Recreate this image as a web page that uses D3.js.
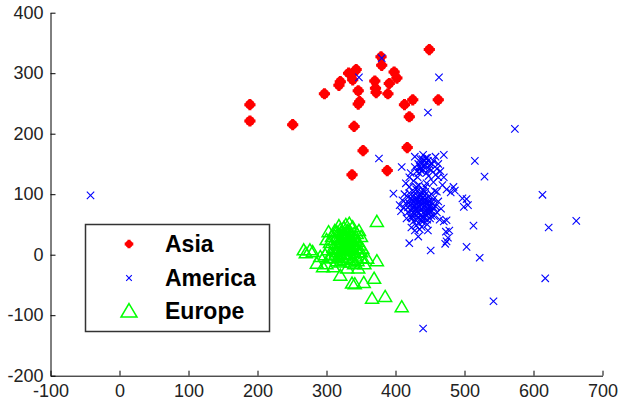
<!DOCTYPE html>
<html>
<head>
<meta charset="utf-8">
<script src="https://cdn.jsdelivr.net/npm/d3@7"></script>
<style>
body { margin: 0; background: #fff; }
.axis text { font-family: "Liberation Sans", Arial, sans-serif; font-size: 18px; fill: #222; }
.axis path, .axis line { stroke: #000; }
.legend text { font-family: "Liberation Sans", Arial, sans-serif; font-size: 23px; font-weight: bold; }
</style>
</head>
<body>
<div class="chart"></div>
<script>
var asia = [
    [189, 248], [189, 221], [251, 215], [297, 266], [318, 280], [320, 286], [332, 300],
    [343, 306], [341, 303], [338, 289], [346, 271], [348, 253], [346, 249], [340, 212],
    [353, 172], [337, 132], [379, 327], [380, 313], [370, 287], [371, 275], [372, 268],
    [389, 266], [391, 283], [398, 302], [402, 292], [413, 248], [425, 256], [420, 228],
    [417, 177], [388, 139], [449, 339], [462, 256]
]

var america = [
    [-42, 98], [380, 325], [347, 293], [463, 293], [447, 235], [573, 208], [376, 159],
    [409, 145], [515, 155], [529, 129], [613, 99], [662, 56], [622, 45], [513, 48],
    [503, 13], [522, -5], [617, -39], [542, -77], [440, -122], [451, 7], [420, 19],
    [433, 30], [474, 22], [476, 28], [472, 18], [497, 93], [499, 79], [505, 82],
    [484, 112], [486, 106], [474, 57], [397, 101], [406, 82], [503, 92], [480, 103],
    [478, 40], [473, 38], [470, 55],
    [428, 162], [433, 150], [436, 158], [440, 165], [441, 145], [444, 152], [438, 138],
    [446, 160], [450, 148], [452, 140], [455, 155], [458, 162], [462, 150], [465, 138],
    [470, 165], [462, 128], [455, 120], [448, 130], [432, 128], [426, 122], [420, 128],
    [430, 112], [445, 118], [436, 142], [442, 155], [468, 115], [474, 108], [457, 105],
    [415, 118], [422, 135], [445, 135], [470, 128], [458, 132],
    [437, 152], [439, 158], [442, 148], [440, 140], [435, 146], [447, 155], [444, 160],
    [449, 142], [434, 135], [453, 150], [460, 142], [428, 145], [431, 138],
    [410, 90], [412, 78], [415, 85], [418, 95], [418, 70], [420, 102], [421, 82],
    [422, 62], [424, 90], [425, 75], [426, 55], [427, 98], [428, 68], [429, 84],
    [430, 108], [430, 48], [431, 92], [432, 72], [433, 60], [434, 80], [435, 100],
    [435, 42], [436, 88], [437, 66], [438, 76], [439, 54], [440, 94], [440, 84],
    [441, 70], [442, 60], [443, 104], [444, 78], [445, 88], [446, 50], [447, 68],
    [448, 96], [449, 80], [450, 60], [452, 86], [453, 72], [455, 92], [456, 64],
    [458, 80], [460, 70], [462, 88], [464, 58], [466, 76], [423, 45], [428, 40],
    [438, 46], [447, 40], [416, 60], [413, 100], [420, 112], [434, 115], [443, 112],
    [452, 100], [460, 104], [408, 72], [425, 65], [430, 88], [437, 58], [443, 92],
    [449, 74], [433, 96], [427, 80], [439, 102], [446, 84], [455, 78], [421, 74],
    [424, 84], [426, 70], [428, 92], [429, 58], [431, 78], [432, 86], [433, 68],
    [434, 52], [436, 74], [436, 96], [437, 82], [438, 62], [439, 88], [441, 78],
    [442, 98], [443, 66], [444, 84], [445, 72], [446, 58], [448, 88], [450, 70],
    [451, 80], [432, 106], [426, 104], [422, 94], [419, 86], [424, 60], [440, 106],
    [452, 64], [454, 84], [418, 78], [434, 88], [441, 62], [447, 76], [429, 74]
]

var europe = [
    [373, 55], [333, 52], [303, 38], [267, 8], [276, 8], [270, 3], [280, 5], [286, -14],
    [291, -3], [320, -34], [337, -47], [341, -48], [354, -46], [369, -39], [373, -10],
    [359, -6], [366, -72], [385, -69], [409, -86], [346, -22], [330, -22], [310, -20],
    [344, 35], [350, 30], [300, -15], [295, -20], [305, -5], [352, 10], [355, -15], [340, -15],
    [305, 20], [308, 30], [310, 12], [312, 25], [314, 5], [315, 38], [316, 18], [318, 28],
    [319, 10], [320, 42], [321, 0], [322, 22], [323, 32], [324, 14], [325, 45], [326, 6],
    [327, 26], [328, 18], [329, 36], [330, -5], [330, 10], [331, 28], [332, 20], [333, 40],
    [334, 2], [335, 30], [336, 14], [337, 24], [338, -8], [339, 8], [340, 35], [341, 18],
    [342, 26], [343, -2], [344, 12], [345, 22], [346, 4], [347, 40], [348, 16], [310, -5],
    [315, -10], [320, -12], [325, -8], [335, -12], [345, -10], [302, 8], [306, 0], [300, 25],
    [318, 48], [328, 50], [338, 46], [312, 40], [322, 8], [326, 34], [334, 10], [322, -4],
    [317, -2], [350, 5], [352, -5], [298, 0],
    [320, 20], [324, 28], [326, 16], [328, 30], [330, 22], [332, 12], [322, 36], [318, 16],
    [334, 26], [336, 34], [328, 8], [324, 2], [330, 40], [316, 30], [338, 18], [340, 28]
]

var xTicks = [-100, 0, 100, 200, 300, 400, 500, 600, 700]
var yTicks = [-200, -100, 0, 100, 200, 300, 400]
var seriesNames = ["Asia", "America", "Europe"]

var width = 620;
var height = 405;

var x = d3.scaleLinear()
    .domain([-100, 700])
    .range([50.5, 602.5])

var y = d3.scaleLinear()
    .domain([-200, 400])
    .range([375.7, 12.7])

var canvas = d3.select(".chart")
    .append("svg")
    .attr("width", width)
    .attr("height", height)

var plain = function(d) { return String(d); };
var xAxis = d3.axisBottom(x).tickValues(xTicks).tickFormat(plain).tickSizeInner(-5).tickSizeOuter(0).tickPadding(9);
var yAxis = d3.axisLeft(y).tickValues(yTicks).tickFormat(plain).tickSizeInner(-5).tickSizeOuter(0).tickPadding(7);

canvas.append("g")
    .attr("class", "x axis")
    .attr("transform", "translate(0, " + y(-200) + ")")
    .call(xAxis);

canvas.append("g")
    .attr("class", "y axis")
    .attr("transform", "translate(" + x(-100) + ", 0)")
    .call(yAxis);

// markers
function drawAsia(sel, r) {
    sel.append("circle").attr("r", r).attr("fill", "#ff0000");
    sel.append("path")
        .attr("d", "M" + (-r - 0.8) + ",0H" + (r + 0.8) + "M0," + (-r - 0.8) + "V" + (r + 0.8))
        .attr("stroke", "#ff0000").attr("stroke-width", 3);
}
function drawCross(sel, h) {
    sel.append("path")
        .attr("d", "M" + (-h) + "," + (-h) + "L" + h + "," + h + "M" + (-h) + "," + h + "L" + h + "," + (-h))
        .attr("stroke", "#0000ff").attr("stroke-width", 1.1).attr("fill", "none");
}
function drawTri(sel, w) {
    var h = w * 0.85;
    sel.append("path")
        .attr("d", "M0," + (-h * 0.55) + "L" + (w / 2) + "," + (h * 0.45) + "L" + (-w / 2) + "," + (h * 0.45) + "Z")
        .attr("stroke", "#00ff00").attr("stroke-width", 1.5).attr("fill", "none");
}

canvas.selectAll(".asia")
    .data(asia)
    .enter().append("g")
    .attr("class", "asia")
    .attr("transform", function(d) { return "translate(" + x(d[0]) + "," + y(d[1]) + ")"; })
    .each(function() { drawAsia(d3.select(this), 4.8); });

canvas.selectAll(".america")
    .data(america)
    .enter().append("g")
    .attr("class", "america")
    .attr("transform", function(d) { return "translate(" + x(d[0]) + "," + y(d[1]) + ")"; })
    .each(function() { drawCross(d3.select(this), 3.7); });

canvas.selectAll(".europe")
    .data(europe)
    .enter().append("g")
    .attr("class", "europe")
    .attr("transform", function(d) { return "translate(" + x(d[0]) + "," + y(d[1]) + ")"; })
    .each(function() { drawTri(d3.select(this), 13); });

// legend
var legend = canvas.append("g").attr("class", "legend");
legend.append("rect")
    .attr("x", 85.5).attr("y", 224.5)
    .attr("width", 184).attr("height", 107)
    .attr("fill", "#fff")
    .attr("stroke", "#333").attr("stroke-width", 1.5);

var rows = [244, 278, 311];
seriesNames.forEach(function(name, i) {
    var g = legend.append("g").attr("transform", "translate(129," + rows[i] + ")");
    if (i == 0) drawAsia(g, 3.5);
    if (i == 1) drawCross(g, 2.8);
    if (i == 2) drawTri(g, 16);
    legend.append("text")
        .attr("x", 165).attr("y", rows[i])
        .attr("dy", "0.36em")
        .text(name);
});
</script>
</body>
</html>
